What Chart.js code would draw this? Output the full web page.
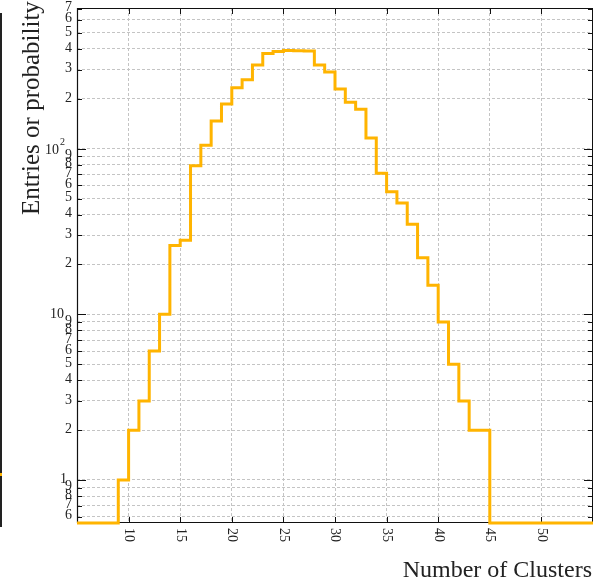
<!DOCTYPE html>
<html><head><meta charset="utf-8">
<script src="https://cdn.jsdelivr.net/npm/chart.js@4/dist/chart.umd.min.js"></script>
<style>html,body{margin:0;padding:0;background:#fff;overflow:hidden}#wrap{width:594px;height:583px;position:relative}</style>
</head><body><div id="wrap"><canvas id="c" width="594" height="583"></canvas></div>
<script>
// bin lower edges (Number of Clusters)
const binLowEdges = [5,6,7,8,9,10,11,12,13,14,15,16,17,18,19,20,21,22,23,24,25,26,27,28,29,30,31,32,33,34,35,36,37,38,39,40,41,42,43,44,45,46,47,48,49,50,51,52,53,54];
const lastEdge = 55;
// entries per bin
const entries = [0,0,0,0,1,2,3,6,10,26,28,79,105,147,186,233,261,320,376,386,391,390,389,320,290,229,191,173,116,71,55,47,35,22,15,9,5,3,2,2,0,0,0,0,0,0,0,0,0,0];
// tick labels
const xTickValues = [10,15,20,25,30,35,40,45,50];
const xTickLabels = ['10','15','20','25','30','35','40','45','50'];
const yTickValues = [0.6,0.7,0.8,0.9,1,2,3,4,5,6,7,8,9,10,20,30,40,50,60,70,80,90,100,200,300,400,500,600,700];
const yTickLabels = ['6','7','8','9','1','2','3','4','5','6','7','8','9','10','2','3','4','5','6','7','8','9','10','2','3','4','5','6','7'];
const yMin = 0.55, yMax = 707;
const xTitle = 'Number of Clusters';
const yTitle = 'Entries or probability';

// empty bins sit on the axis floor of the log scale
const points = binLowEdges.map((e,i)=>({x:e,y:Math.max(entries[i],yMin)}));
points.push({x:lastEdge,y:yMin});

const SERIF = '"Liberation Serif","Times New Roman",serif';

const decor = {
  id:'decor',
  beforeDatasetsDraw(chart){
    const {ctx, chartArea:a, scales:{x,y}} = chart;
    ctx.save();
    ctx.strokeStyle = '#111';
    ctx.lineWidth = 1;
    ctx.strokeRect(a.left+0.5, a.top+0.5, a.right-a.left-1, a.bottom-a.top-1);
    ctx.lineWidth = 1.2;
    ctx.beginPath();
    ctx.moveTo(a.left+0.5,a.top); ctx.lineTo(a.left+0.5,a.bottom);
    ctx.stroke();
    ctx.lineWidth = 1;
    ctx.beginPath();
    xTickValues.forEach(v=>{
      const px = Math.round(x.getPixelForValue(v))+0.5;
      ctx.moveTo(px,a.bottom); ctx.lineTo(px,a.bottom-6);
      ctx.moveTo(px,a.top); ctx.lineTo(px,a.top+6);
    });
    yTickValues.forEach(v=>{
      const py = Math.round(y.getPixelForValue(v))+0.5;
      const major = (v===1||v===10||v===100);
      const L = major?9:5;
      ctx.moveTo(a.left,py); ctx.lineTo(a.left+L,py);
      ctx.moveTo(a.right,py); ctx.lineTo(a.right-L,py);
    });
    ctx.stroke();
    ctx.restore();
  },
  afterDraw(chart){
    const {ctx, chartArea:a, scales:{x,y}} = chart;
    ctx.save();
    ctx.fillStyle = '#222';
    ctx.font = '14px '+SERIF;
    xTickValues.forEach((v,i)=>{
      const px = x.getPixelForValue(v);
      ctx.save();
      ctx.translate(px, a.bottom+5);
      ctx.rotate(Math.PI/2);
      ctx.textAlign='left'; ctx.textBaseline='middle';
      ctx.fillText(xTickLabels[i],0,0);
      ctx.restore();
    });
    yTickValues.forEach((v,i)=>{
      const py = y.getPixelForValue(v);
      ctx.textBaseline='middle';
      ctx.textAlign='right';
      ctx.font = '14px '+SERIF;
      if (v===100){
        ctx.fillText(yTickLabels[i],59,py+2);
        ctx.font = '10px '+SERIF;
        ctx.textAlign='left';
        ctx.fillText('2',60,py-6);
      } else if (v===10){
        ctx.fillText(yTickLabels[i],64,py);
      } else if (v===1){
        ctx.fillText(yTickLabels[i],67,py-1);
      } else {
        ctx.fillText(yTickLabels[i],72,py-1);
      }
    });
    ctx.font = '24px '+SERIF;
    ctx.textAlign='right'; ctx.textBaseline='alphabetic';
    ctx.fillText(xTitle, 592, 577);
    ctx.save();
    ctx.translate(39, 215);
    ctx.rotate(-Math.PI/2);
    ctx.font = '25px '+SERIF;
    ctx.textAlign='left';
    ctx.fillText(yTitle,0,0);
    ctx.restore();
    ctx.fillStyle='#222';
    ctx.fillRect(0,13,2,514);
    ctx.fillStyle='#FFB400';
    ctx.fillRect(0,473,2,3);
    ctx.restore();
  }
};

new Chart(document.getElementById('c'),{
  type:'line',
  data:{datasets:[{
    data:points,
    stepped:'before',
    borderColor:'#FFB400',
    borderWidth:3,
    pointRadius:0,
    fill:false,
    tension:0,
    clip:false
  }]},
  options:{
    responsive:false,
    animation:false,
    devicePixelRatio:1,
    layout:{padding:{top:8,right:1,left:0,bottom:0}},
    plugins:{legend:{display:false},tooltip:{enabled:false},title:{display:false}},
    scales:{
      x:{
        type:'linear', min:5, max:55, bounds:'data',
        afterBuildTicks(s){ s.ticks = xTickValues.map(v=>({value:v})); },
        afterFit(s){ s.height = 60; },
        ticks:{display:false},
        grid:{color:'#c4c4c4',lineWidth:1,drawTicks:false},
        border:{display:false,dash:[3,2]}
      },
      y:{
        type:'logarithmic', min:yMin, max:yMax, bounds:'data',
        afterBuildTicks(s){ s.ticks = yTickValues.map(v=>({value:v})); },
        afterFit(s){ s.width = 77; },
        ticks:{display:false,autoSkip:false},
        grid:{color:'#c4c4c4',lineWidth:1,drawTicks:false},
        border:{display:false,dash:[3,2]}
      }
    }
  },
  plugins:[decor]
});
</script>
</body></html>
